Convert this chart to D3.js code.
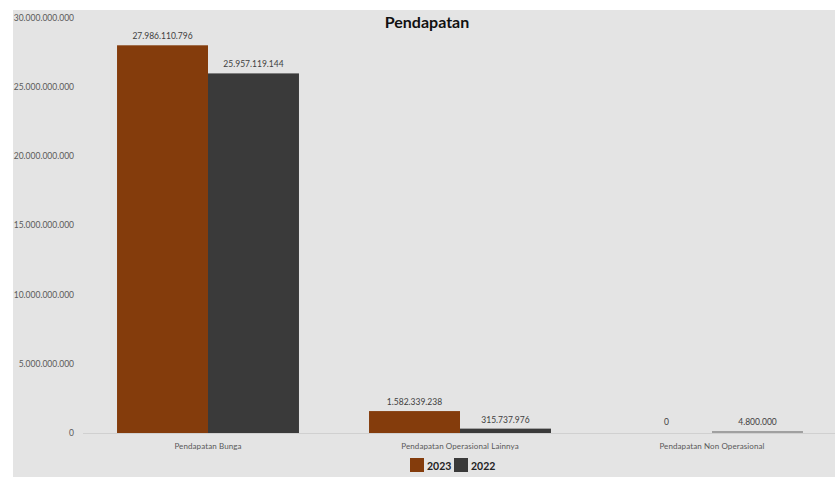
<!DOCTYPE html>
<html><head><meta charset="utf-8">
<script src="https://cdn.jsdelivr.net/npm/d3@7"></script>
<style>body{margin:0;background:#fff}svg{display:block}text{font-family:Lato,"Open Sans",sans-serif}</style>
</head><body><svg id="c" width="835" height="477"></svg>
<script>
const categories = ["Pendapatan Bunga", "Pendapatan Operasional Lainnya", "Pendapatan Non Operasional"];
const series = ["2023", "2022"];
const values2023 = [27986110796, 1582339238, 0];
const values2022 = [25957119144, 315737976, 4800000];
const yTicks = [0, 5e9, 10e9, 15e9, 20e9, 25e9, 30e9];
const colors = ["#843C0C", "#3A3A3A"];

const svg = d3.select("#c");
svg.append("rect").attr("x",13).attr("y",10).attr("width",822).attr("height",467).attr("fill","#E4E4E4");

const fmt = v => v === 0 ? "0" : d3.format(",")(v).replace(/,/g, ".");
const y = d3.scaleLinear().domain([0, 30e9]).range([433, 17.4]);
const x = d3.scaleBand().domain(categories).range([82, 838]).paddingInner(0.278).paddingOuter(0.139);
const xs = d3.scaleBand().domain(series).range([0, x.bandwidth()]);

svg.append("text").attr("x",427).attr("y",28).attr("text-anchor","middle")
  .attr("font-size",16).attr("font-weight","bold").attr("fill","#111").text("Pendapatan");

// y axis labels
const yAxis = d3.axisLeft(y).tickValues(yTicks).tickSize(0).tickPadding(0).tickFormat(fmt);
const ga = svg.append("g").attr("transform","translate(74,0)").call(yAxis);
ga.select(".domain").remove();
ga.selectAll("text").attr("font-size",8.5).attr("fill","#595959").attr("font-family","Lato,'Open Sans',sans-serif");

// baseline
svg.append("line").attr("x1",83).attr("x2",835).attr("y1",y(0)+0.5).attr("y2",y(0)+0.5).attr("stroke","#D0D0D0");

const data = [];
categories.forEach((c,i)=>{
  data.push({c, s:"2023", v:values2023[i]});
  data.push({c, s:"2022", v:values2022[i]});
});

svg.selectAll("rect.bar").data(data).join("rect").attr("class","bar")
  .attr("x", d => x(d.c) + xs(d.s))
  .attr("width", xs.bandwidth())
  .attr("y", d => Math.min(y(d.v), y(0) - (d.v > 0 ? 2 : 0)))
  .attr("height", d => d.v > 0 ? Math.max(y(0) - y(d.v), 2) : 0)
  .attr("fill", d => d.s === "2023" ? colors[0] : (d.v < 1e8 ? "#A0A0A0" : colors[1]));

svg.selectAll("text.val").data(data).join("text").attr("class","val")
  .attr("x", d => x(d.c) + xs(d.s) + xs.bandwidth()/2)
  .attr("y", d => Math.min(y(d.v), y(0)-2) - 6)
  .attr("text-anchor","middle").attr("font-size",8.5).attr("fill","#404040")
  .text(d => fmt(d.v));

// category labels
const xAxis = d3.axisBottom(x).tickSize(0).tickPadding(0);
const gx = svg.append("g").attr("transform","translate(0,443)").call(xAxis);
gx.select(".domain").remove();
gx.selectAll("text").attr("font-size",8).attr("fill","#595959").attr("font-family","Lato,'Open Sans',sans-serif").attr("letter-spacing","0.1px");

// legend
const leg = svg.append("g").attr("transform","translate(410,458)");
const lx = [0, 44];
series.forEach((s,i)=>{
  leg.append("rect").attr("x",lx[i]).attr("y",0).attr("width",14).attr("height",14).attr("fill",colors[i]);
  leg.append("text").attr("x",lx[i]+17).attr("y",11.5).attr("font-size",10.5).attr("font-weight","bold").attr("fill","#222").text(s);
});
</script></body></html>
